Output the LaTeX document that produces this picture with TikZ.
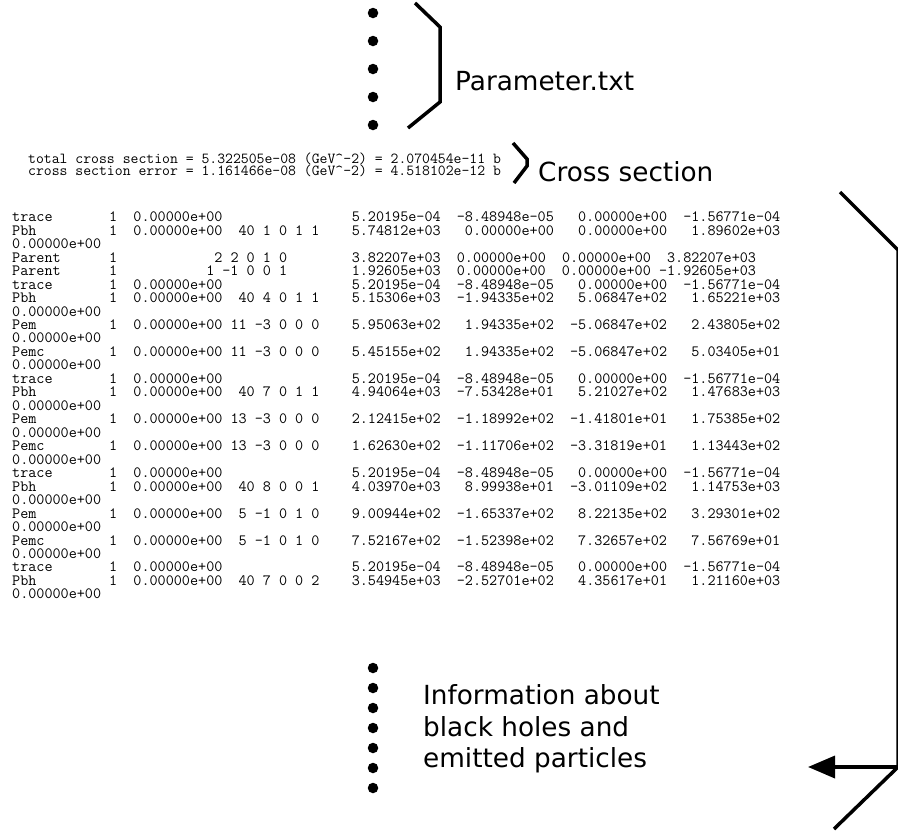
\documentclass[tikz,border=0pt]{standalone}
\usepackage{fontspec}
\newfontfamily\labelfont{DejaVu Sans}
\usetikzlibrary{arrows.meta,positioning}
\newcommand\datafont{\fontsize{15.7}{13.5}\selectfont\ttfamily\frenchspacing\obeyspaces}
\newcommand\xsfont{\fontsize{15.3}{12.5}\selectfont\ttfamily\frenchspacing\obeyspaces}

\begin{document}
\begin{tikzpicture}[x=1pt,y=-1pt,
  bullet/.style={circle,fill=black,inner sep=0pt,minimum size=10.5pt},
  infotext/.style={font=\labelfont\fontsize{26.3}{31.5}\selectfont,inner sep=0pt,anchor=base west},
  rowtext/.style={font=\datafont,inner sep=0pt,anchor=base west},
  xstext/.style={font=\xsfont,inner sep=0pt,anchor=base west},
  bracket/.style={line width=3.5pt},
  pointer/.style={-{Triangle[length=27pt,width=22pt]},line width=3.5pt}]
 \useasboundingbox (0,0) rectangle (898,831);
 % parameter file
 \foreach \y [count=\i] in {13,41,69,97,125}
   \node[bullet] (top\i) at (373,\y) {};
 \draw[bracket] (415,3) -- (440,27) -- (440,102) -- (408,128);
 \node[infotext] (param) at (455,90) {Parameter.txt};
 % cross section
 \node[xstext] (xs1) at (28,163) {total cross section = 5.322505e-08 (GeV\textasciicircum-2) = 2.070454e-11 b};
 \node[xstext] (xs2) at (28,175) {cross section error = 1.161466e-08 (GeV\textasciicircum-2) = 4.518102e-12 b};
 \draw[bracket] (513,143) -- (527,159) -- (527,166) -- (514,183);
 \node[infotext] (xslabel) at (538,181) {Cross section};
 % event record
 \node[rowtext] (r0) at (12,221.7) {trace       1  0.00000e+00                5.20195e-04  -8.48948e-05   0.00000e+00  -1.56771e-04};
 \node[rowtext] (r1) at (12,235.2) {Pbh         1  0.00000e+00  40 1 0 1 1    5.74812e+03   0.00000e+00   0.00000e+00   1.89602e+03};
 \node[rowtext] (r2) at (12,248.6) {0.00000e+00};
 \node[rowtext] (r3) at (12,262.1) {Parent      1            2 2 0 1 0        3.82207e+03  0.00000e+00  0.00000e+00  3.82207e+03};
 \node[rowtext] (r4) at (12,275.6) {Parent      1           1 -1 0 0 1        1.92605e+03  0.00000e+00  0.00000e+00 -1.92605e+03};
 \node[rowtext] (r5) at (12,289.1) {trace       1  0.00000e+00                5.20195e-04  -8.48948e-05   0.00000e+00  -1.56771e-04};
 \node[rowtext] (r6) at (12,302.5) {Pbh         1  0.00000e+00  40 4 0 1 1    5.15306e+03  -1.94335e+02   5.06847e+02   1.65221e+03};
 \node[rowtext] (r7) at (12,316.0) {0.00000e+00};
 \node[rowtext] (r8) at (12,329.5) {Pem         1  0.00000e+00 11 -3 0 0 0    5.95063e+02   1.94335e+02  -5.06847e+02   2.43805e+02};
 \node[rowtext] (r9) at (12,342.9) {0.00000e+00};
 \node[rowtext] (r10) at (12,356.4) {Pemc        1  0.00000e+00 11 -3 0 0 0    5.45155e+02   1.94335e+02  -5.06847e+02   5.03405e+01};
 \node[rowtext] (r11) at (12,369.9) {0.00000e+00};
 \node[rowtext] (r12) at (12,383.3) {trace       1  0.00000e+00                5.20195e-04  -8.48948e-05   0.00000e+00  -1.56771e-04};
 \node[rowtext] (r13) at (12,396.8) {Pbh         1  0.00000e+00  40 7 0 1 1    4.94064e+03  -7.53428e+01   5.21027e+02   1.47683e+03};
 \node[rowtext] (r14) at (12,410.3) {0.00000e+00};
 \node[rowtext] (r15) at (12,423.8) {Pem         1  0.00000e+00 13 -3 0 0 0    2.12415e+02  -1.18992e+02  -1.41801e+01   1.75385e+02};
 \node[rowtext] (r16) at (12,437.2) {0.00000e+00};
 \node[rowtext] (r17) at (12,450.7) {Pemc        1  0.00000e+00 13 -3 0 0 0    1.62630e+02  -1.11706e+02  -3.31819e+01   1.13443e+02};
 \node[rowtext] (r18) at (12,464.2) {0.00000e+00};
 \node[rowtext] (r19) at (12,477.6) {trace       1  0.00000e+00                5.20195e-04  -8.48948e-05   0.00000e+00  -1.56771e-04};
 \node[rowtext] (r20) at (12,491.1) {Pbh         1  0.00000e+00  40 8 0 0 1    4.03970e+03   8.99938e+01  -3.01109e+02   1.14753e+03};
 \node[rowtext] (r21) at (12,504.6) {0.00000e+00};
 \node[rowtext] (r22) at (12,518.0) {Pem         1  0.00000e+00  5 -1 0 1 0    9.00944e+02  -1.65337e+02   8.22135e+02   3.29301e+02};
 \node[rowtext] (r23) at (12,531.5) {0.00000e+00};
 \node[rowtext] (r24) at (12,545.0) {Pemc        1  0.00000e+00  5 -1 0 1 0    7.52167e+02  -1.52398e+02   7.32657e+02   7.56769e+01};
 \node[rowtext] (r25) at (12,558.5) {0.00000e+00};
 \node[rowtext] (r26) at (12,571.9) {trace       1  0.00000e+00                5.20195e-04  -8.48948e-05   0.00000e+00  -1.56771e-04};
 \node[rowtext] (r27) at (12,585.4) {Pbh         1  0.00000e+00  40 7 0 0 2    3.54945e+03  -2.52701e+02   4.35617e+01   1.21160e+03};
 \node[rowtext] (r28) at (12,598.9) {0.00000e+00};
 % black hole information
 \foreach \y [count=\i] in {668,688,708,728,748,768,788}
   \node[bullet] (bot\i) at (373,\y) {};
 \node[infotext] (info1) at (423,704) {Information about};
 \node[infotext] (info2) at (423,736) {black holes and};
 \node[infotext] (info3) at (423,767) {emitted particles};
 % big bracket with arrow
 \coordinate (bend) at (898,767);
 \coordinate (tip) at (808,767);
 \draw[bracket] (840,192) -- (898,250) -- (bend) -- (834,829);
 \draw[pointer] (bend) -- (tip);
\end{tikzpicture}
\end{document}
